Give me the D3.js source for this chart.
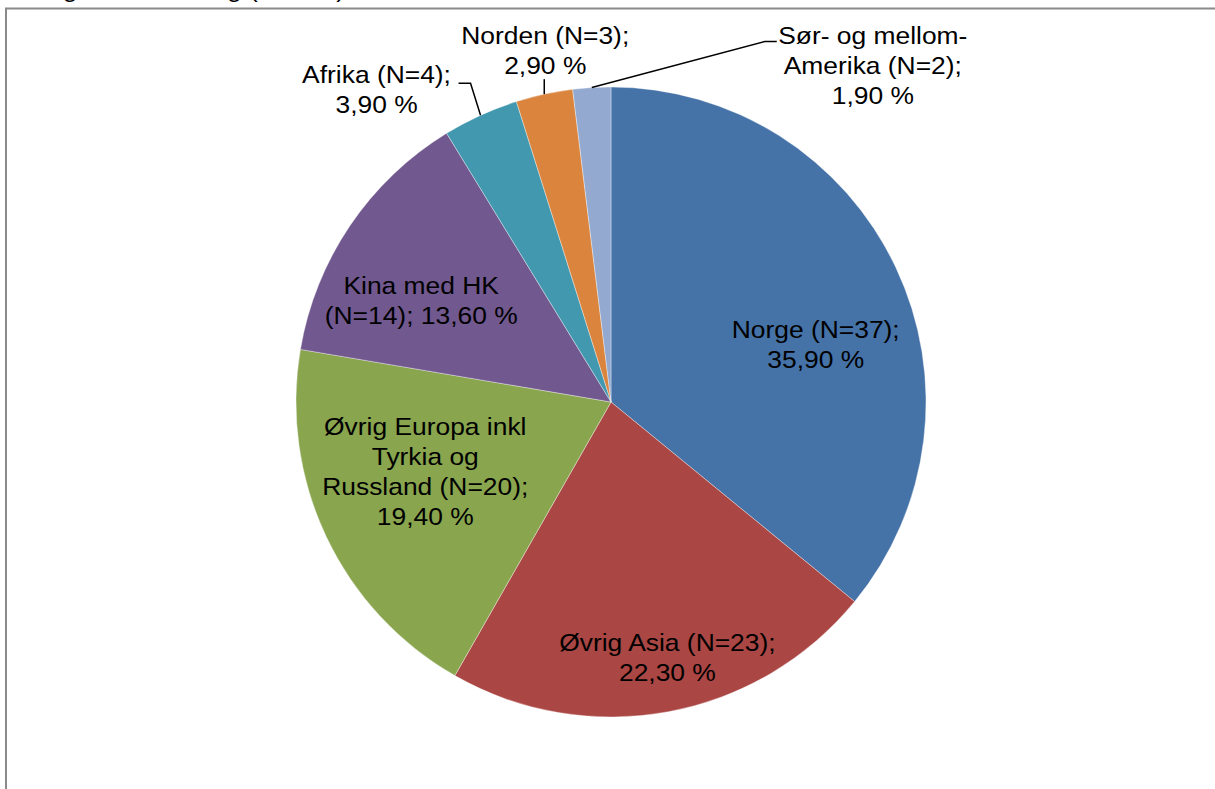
<!DOCTYPE html>
<html>
<head>
<meta charset="utf-8">
<script src="https://cdn.jsdelivr.net/npm/d3@7"></script>
<style>
  html, body { margin: 0; padding: 0; background: #fff; }
  svg { display: block; }
  text { font-family: "Liberation Sans", Arial, sans-serif; fill: #000; }
</style>
</head>
<body>
<svg id="chart" width="1215" height="789"></svg>
<script>
// data
var categories = ["Norge", "Øvrig Asia", "Øvrig Europa inkl Tyrkia og Russland", "Kina med HK", "Afrika", "Norden", "Sør- og mellom-Amerika"];
var counts = [37, 23, 20, 14, 4, 3, 2];
var percents = [35.9, 22.3, 19.4, 13.6, 3.9, 2.9, 1.9];
var colors = ["#4572A7", "#AA4643", "#89A54E", "#71588F", "#4198AF", "#DB843D", "#93A9CF"];
// label wording, {n} = count, {p} = percent
var labelTemplates = [
    ["Norge (N={n});", "{p}"],
    ["Øvrig Asia (N={n});", "{p}"],
    ["Øvrig Europa inkl", "Tyrkia og", "Russland (N={n});", "{p}"],
    ["Kina med HK", "(N={n}); {p}"],
    ["Afrika (N={n});", "{p}"],
    ["Norden (N={n});", "{p}"],
    ["Sør- og mellom-", "Amerika (N={n});", "{p}"]
];
var titleText = "Regional fordeling (N=103)";

// layout: label nudges (inside = from centroid, outside = from slice edge) and leader bends
var outside = [false, false, false, false, true, true, true];
var labelNudge = [[14, 33], [18, 48], [5, -21], [-15, 17], [-104, -26], [1, -44], [281, -22]];
var leaderBends = [null, null, null, null, [[-10, -32], [-22, -32]], [[0, -15]], [[173, -46], [185, -46]]];

var width = 1215, height = 789;
var cx = 611, cy = 402, radius = 315;
var fontSize = 24, lineHeight = 30, stretch = 1.1;

var svg = d3.select("#chart");

// outer frame (runs off the right and bottom of the picture)
svg.append("rect")
    .attr("x", 6).attr("y", 8.5)
    .attr("width", 1230).attr("height", 820)
    .attr("fill", "none")
    .attr("stroke", "#8a8a8a")
    .attr("stroke-width", 2);

// title, mostly cut off at the top
svg.append("text")
    .attr("transform", "translate(29,-3) scale(" + stretch + ",1)")
    .style("font-size", fontSize + "px")
    .text(titleText);

var fmtPct = function (v) { return d3.format(".2f")(v).replace(".", ",") + " %"; };

var pie = d3.pie().sort(null).value(function (d) { return d; });
var arcs = pie(counts);

var arc = d3.arc().innerRadius(0).outerRadius(radius);
var labelArc = d3.arc().innerRadius(radius * 0.67).outerRadius(radius * 0.67);
var edgeArc = d3.arc().innerRadius(radius).outerRadius(radius);

var g = svg.append("g").attr("transform", "translate(" + cx + "," + cy + ")");

g.selectAll("path.slice").data(arcs).enter().append("path")
    .attr("class", "slice")
    .attr("d", arc)
    .attr("fill", function (d, i) { return colors[i]; })
    .attr("stroke", "#ffffff")
    .attr("stroke-opacity", 0.6)
    .attr("stroke-width", 0.6);

// leader lines for the small slices
g.selectAll("path.leader").data(arcs.filter(function (d, i) { return outside[i]; })).enter().append("path")
    .attr("class", "leader")
    .attr("d", function (d) {
        var i = d.index;
        var p = edgeArc.centroid(d);
        var pts = [p].concat(leaderBends[i].map(function (b) { return [p[0] + b[0], p[1] + b[1]]; }));
        return d3.line()(pts);
    })
    .attr("fill", "none")
    .attr("stroke", "#000")
    .attr("stroke-width", 1.5);

// labels
var labels = g.selectAll("g.label").data(arcs).enter().append("g")
    .attr("class", "label")
    .attr("transform", function (d, i) {
        var p = outside[i] ? edgeArc.centroid(d) : labelArc.centroid(d);
        return "translate(" + (p[0] + labelNudge[i][0]) + "," + (p[1] + labelNudge[i][1]) + ") scale(" + stretch + ",1)";
    });

labels.append("text")
    .attr("text-anchor", "middle")
    .style("font-size", fontSize + "px")
    .each(function (d, i) {
        var lines = labelTemplates[i].map(function (s) {
            return s.replace("{n}", counts[i]).replace("{p}", fmtPct(percents[i]));
        });
        var top = -(lines.length - 1) * lineHeight / 2;
        var t = d3.select(this);
        lines.forEach(function (line, k) {
            t.append("tspan")
                .attr("x", 0)
                .attr("y", top + k * lineHeight)
                .attr("dy", "0.35em")
                .text(line);
        });
    });
</script>
</body>
</html>
